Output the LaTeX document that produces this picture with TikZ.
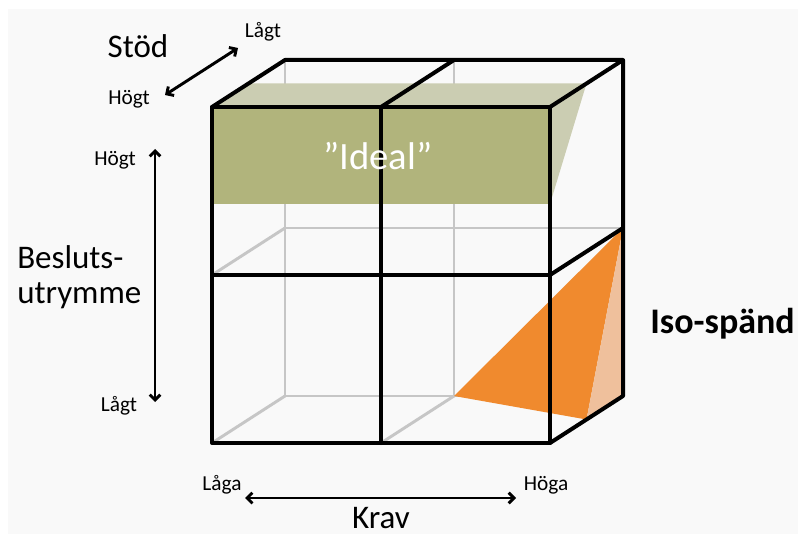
\documentclass[tikz,border=0pt]{standalone}
\usepackage{fontspec}
\setmainfont{Carlito}
\usetikzlibrary{arrows.meta}
\definecolor{bgc}{HTML}{F9F9F9}
\definecolor{olivefront}{HTML}{B1B47C}
\definecolor{olivetop}{HTML}{CBCDB2}
\definecolor{orangef}{HTML}{F08A2E}
\definecolor{peach}{HTML}{EFC09C}
\definecolor{hid}{HTML}{C6C6C6}
\begin{document}
\begin{tikzpicture}[x=0.75pt,y=-0.75pt,
  edge/.style={line width=3pt,black,line join=round,line cap=round},
  hidden/.style={line width=2.2pt,hid},
  axis/.style={line width=2.2pt,black,{Straight Barb[length=4pt,width=8pt]}-{Straight Barb[length=4pt,width=8pt]}},
  lbl/.style={inner sep=0pt,font=\fontsize{16}{19}\selectfont},
  big/.style={inner sep=0pt,font=\fontsize{24.75}{26.25}\selectfont}]
\useasboundingbox (0,0) rectangle (798,534);
\fill[bgc] (8,9) rectangle (798,534);
% front corners
\coordinate (A) at (212,107); \coordinate (B) at (381,107); \coordinate (C) at (550,107);
\coordinate (D) at (212,275); \coordinate (E) at (381,275); \coordinate (F) at (550,275);
\coordinate (G) at (212,443); \coordinate (H) at (381,443); \coordinate (I) at (550,443);
% back corners
\coordinate (a) at (285,60); \coordinate (b) at (454,60); \coordinate (c) at (623,60);
\coordinate (d) at (285,228); \coordinate (e) at (454,228); \coordinate (f) at (623,228);
\coordinate (g) at (285,396); \coordinate (h) at (454,396); \coordinate (i) at (623,396);
% hidden lines
\draw[hidden] (a) -- (g) (b) -- (h) (d) -- (f) (g) -- (i);
\draw[hidden] (D) -- (d) (G) -- (g) (H) -- (h);
% ideal slab
\fill[olivetop] (212,107) -- (248.5,83.5) -- (586.5,83.5) -- (550,107) -- cycle;
\fill[olivetop] (550,107) -- (586.5,83.5) -- (550,204) -- cycle;
\fill[olivefront] (212,107) rectangle (550,204);
% iso-spänd wedge
\fill[orangef] (h) -- (f) -- (586.5,419.5) -- cycle;
\fill[peach] (f) -- (586.5,419.5) -- (i) -- cycle;
% visible edges
\draw[edge] (A) -- (C) -- (I) -- (G) -- cycle;
\draw[edge] (B) -- (H) (D) -- (F);
\draw[edge] (A) -- (a) -- (c) -- (i) (B) -- (b) (C) -- (c) (F) -- (f) (I) -- (i);
% labels
\node[big,anchor=base] (stod) at (138,58) {Stöd};
\node[lbl,anchor=base] (lagt1) at (263,38) {Lågt};
\node[lbl,anchor=base] (hogt1) at (129,105) {Högt};
\coordinate (s1) at (165,95); \coordinate (s2) at (238,48);
\draw[axis] (s1) -- (s2);
\node[lbl,anchor=base] (hogt2) at (115,166) {Högt};
\node[lbl,anchor=base] (lagt2) at (119,411) {Lågt};
\coordinate (v1) at (155,149); \coordinate (v2) at (155,402);
\draw[axis] (v1) -- (v2);
\node[big,anchor=base west,align=left] (beslut) at (17,303) {Besluts-\\utrymme};
\node[lbl,anchor=base] (laga) at (222,490) {Låga};
\node[lbl,anchor=base] (hoga) at (546,490) {Höga};
\coordinate (k1) at (245,498); \coordinate (k2) at (516,498);
\draw[axis] (k1) -- (k2);
\node[big,anchor=base] (krav) at (381,528) {Krav};
\node[inner sep=0pt,anchor=base,text=white,font=\fontsize{29}{30}\selectfont] (ideal) at (378,170) {”Ideal”};
\node[inner sep=0pt,anchor=base west,font=\fontsize{27}{30}\selectfont\bfseries] (iso) at (650,333) {Iso-spänd};
\end{tikzpicture}
\end{document}
